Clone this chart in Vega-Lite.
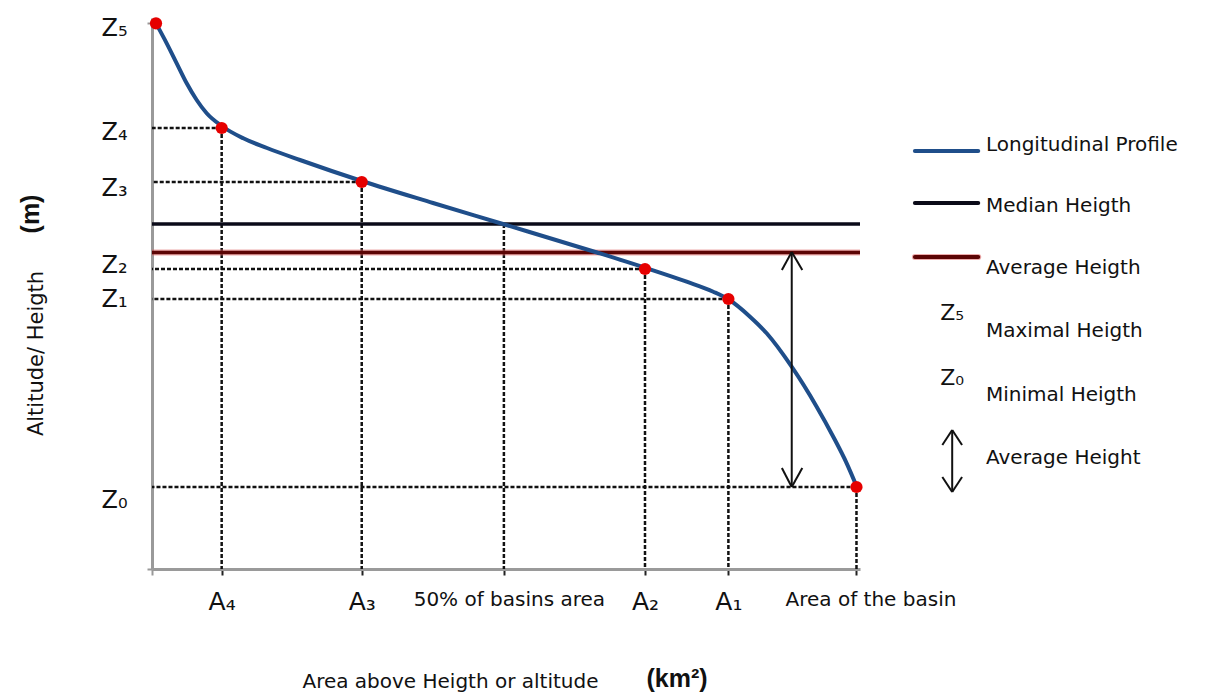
{
  "$schema": "https://vega.github.io/schema/vega-lite/v6.json",
  "width": 708,
  "height": 551,
  "autosize": {"type": "none"},
  "padding": {"left": 152, "top": 18, "right": 356, "bottom": 126},
  "background": "white",
  "config": {"view": {"stroke": null}, "font": "DejaVu Sans", "axis": {"grid": false}},
  "datasets": {
    "profile": [
      {"area": 0.57, "height": 545.7}, {"area": 2.09, "height": 525.7}, {"area": 3.51, "height": 505.7},
      {"area": 4.93, "height": 485.7}, {"area": 6.35, "height": 469}, {"area": 7.77, "height": 455.7},
      {"area": 9.9, "height": 443}, {"area": 12.97, "height": 430.7}, {"area": 16.34, "height": 421},
      {"area": 21.03, "height": 409}, {"area": 29.8, "height": 388}, {"area": 39.93, "height": 366},
      {"area": 49.87, "height": 345}, {"area": 63.23, "height": 316.5}, {"area": 70.05, "height": 301.3},
      {"area": 75.97, "height": 287.3}, {"area": 79.75, "height": 277.3}, {"area": 81.9, "height": 269.7},
      {"area": 84.97, "height": 252.3}, {"area": 87.34, "height": 235.7}, {"area": 90.89, "height": 202.3},
      {"area": 94.44, "height": 162.3}, {"area": 96.8, "height": 132.3}, {"area": 98.71, "height": 105.7},
      {"area": 100.1, "height": 83}
    ],
    "levels": [
      {"label": "Z₅", "area": 0.57, "height": 545.7},
      {"label": "Z₄", "area": 9.9, "height": 441},
      {"label": "Z₃", "area": 29.8, "height": 387},
      {"label": "Z₂", "area": 70.05, "height": 300},
      {"label": "Z₁", "area": 81.9, "height": 270},
      {"label": "Z₀", "area": 100.1, "height": 82}
    ],
    "references": [
      {"name": "Median Heigth", "area": 50, "height": 345},
      {"name": "Average Heigth", "area": 90.9, "height": 316.5}
    ],
    "arrows": [
      {"area": 90.9, "height": 317, "area2": 90.9, "height2": 82},
      {"area": 90.9, "height": 317, "area2": 89.5, "height2": 299},
      {"area": 90.9, "height": 317, "area2": 92.4, "height2": 299},
      {"area": 90.9, "height": 82, "area2": 89.5, "height2": 101},
      {"area": 90.9, "height": 82, "area2": 92.4, "height2": 101},
      {"area": 113.7, "height": 139, "area2": 113.7, "height2": 77},
      {"area": 113.7, "height": 139, "area2": 112.3, "height2": 124},
      {"area": 113.7, "height": 139, "area2": 115.1, "height2": 124},
      {"area": 113.7, "height": 77, "area2": 112.3, "height2": 92},
      {"area": 113.7, "height": 77, "area2": 115.1, "height2": 92}
    ],
    "legendLines": [
      {"name": "Longitudinal Profile", "area": 108.4, "area2": 117.4, "height": 418},
      {"name": "Median Heigth", "area": 108.4, "area2": 117.4, "height": 366},
      {"name": "Average Heigth", "area": 108.4, "area2": 117.4, "height": 312}
    ],
    "legendText": [
      {"text": "Longitudinal Profile", "area": 118.5, "height": 424},
      {"text": "Median Heigth", "area": 118.5, "height": 363},
      {"text": "Average Heigth", "area": 118.5, "height": 301},
      {"text": "Maximal Heigth", "area": 118.5, "height": 238},
      {"text": "Minimal Heigth", "area": 118.5, "height": 174},
      {"text": "Average Height", "area": 118.5, "height": 111.5}
    ],
    "legendSymbols": [
      {"text": "Z₅", "area": 113.7, "height": 256},
      {"text": "Z₀", "area": 113.7, "height": 191}
    ],
    "units": [
      {"text": "(m)", "area": -17.2, "height": 355, "angle": 270},
      {"text": "(km²)", "area": 74.6, "height": -110, "angle": 0}
    ]
  },
  "layer": [
    {
      "data": {"name": "levels"},
      "transform": [{"filter": "datum.height < 540"}],
      "mark": {"type": "rule", "color": "#111", "strokeWidth": 2.5, "strokeDash": [4, 2]},
      "encoding": {
        "x": {
          "field": "area", "type": "quantitative",
          "scale": {"domain": [0, 100.6], "nice": false, "zero": false},
          "axis": {
            "title": "Area above Heigth or altitude",
            "titleFontSize": 20, "titleFontWeight": "normal", "titleColor": "#111",
            "titleX": 298, "titleY": 112, "titleAlign": "center", "titleBaseline": "middle",
            "values": [0, 9.9, 29.8, 50, 70.05, 81.9, 100.1],
            "labelExpr": "datum.value == 9.9 ? 'A₄' : datum.value == 29.8 ? 'A₃' : datum.value == 50 ? '50% of basins area' : datum.value == 70.05 ? 'A₂' : datum.value == 81.9 ? 'A₁' : datum.value == 100.1 ? 'Area of the basin' : ''",
            "labelFontSize": {"condition": {"test": "datum.value == 50 || datum.value == 100.1", "value": 20}, "value": 25},
            "labelOffset": {"condition": [{"test": "datum.value == 100.1", "value": 14}, {"test": "datum.value == 50", "value": 5}], "value": 0},
            "labelColor": "#111",
            "labelPadding": 14,
            "labelLimit": 400,
            "labelFlush": false,
            "labelOverlap": false,
            "tickSize": 6,
            "tickWidth": 2,
            "tickColor": {"condition": {"test": "datum.value == 0", "value": "#999999"}, "value": "#222222"},
            "domainColor": "#9a9a9a",
            "domainWidth": 3
          }
        },
        "x2": {"datum": 0},
        "y": {
          "field": "height", "type": "quantitative",
          "scale": {"domain": [0, 551], "nice": false, "zero": false},
          "axis": {
            "title": "Altitude/ Heigth",
            "titleFontSize": 21, "titleFontWeight": "normal", "titleColor": "#111",
            "titleX": -116, "titleY": 335, "titleAlign": "center", "titleBaseline": "middle", "titleAngle": 270,
            "values": [0, 545.7, 441, 387, 300, 270, 82],
            "labelExpr": "datum.value == 545.7 ? 'Z₅' : datum.value == 441 ? 'Z₄' : datum.value == 387 ? 'Z₃' : datum.value == 300 ? 'Z₂' : datum.value == 270 ? 'Z₁' : datum.value == 82 ? 'Z₀' : ''",
            "labelFontSize": 24,
            "labelColor": "#111",
            "labelBaseline": "middle",
            "labelOffset": {"condition": [{"test": "datum.value == 545.7", "value": 5}, {"test": "datum.value == 441", "value": 4}, {"test": "datum.value == 387", "value": 6}, {"test": "datum.value == 300", "value": -4}, {"test": "datum.value == 82", "value": 13}], "value": 0},
            "labelPadding": 20,
            "labelFlush": false,
            "labelOverlap": false,
            "tickSize": 5,
            "tickWidth": 2,
            "tickColor": {"condition": {"test": "datum.value == 0 || datum.value == 545.7", "value": "#999999"}, "value": "transparent"},
            "domainColor": "#9a9a9a",
            "domainWidth": 3
          }
        }
      }
    },
    {
      "data": {"name": "levels"},
      "transform": [{"filter": "datum.height < 540"}],
      "mark": {"type": "rule", "color": "#111", "strokeWidth": 2.5, "strokeDash": [4, 2]},
      "encoding": {
        "x": {"field": "area", "type": "quantitative"},
        "y": {"field": "height", "type": "quantitative"},
        "y2": {"datum": 0}
      }
    },
    {
      "data": {"name": "references"},
      "transform": [{"filter": "datum.name == 'Median Heigth'"}],
      "mark": {"type": "rule", "color": "#111", "strokeWidth": 2.5, "strokeDash": [4, 2]},
      "encoding": {
        "x": {"field": "area", "type": "quantitative"},
        "y": {"field": "height", "type": "quantitative"},
        "y2": {"datum": 0}
      }
    },
    {
      "data": {"name": "references"},
      "transform": [{"filter": "datum.name == 'Average Heigth'"}],
      "mark": {"type": "rule", "color": "#e06666", "strokeWidth": 6, "opacity": 0.55},
      "encoding": {
        "x": {"datum": 0},
        "x2": {"datum": 100.6},
        "y": {"field": "height", "type": "quantitative"}
      }
    },
    {
      "data": {"name": "references"},
      "mark": {"type": "rule", "strokeWidth": 3.5},
      "encoding": {
        "x": {"datum": 0},
        "x2": {"datum": 100.6},
        "y": {"field": "height", "type": "quantitative"},
        "color": {
          "field": "name", "type": "nominal", "legend": null,
          "scale": {"domain": ["Longitudinal Profile", "Median Heigth", "Average Heigth"], "range": ["#1f4e8a", "#0a0a18", "#5c0505"]}
        }
      }
    },
    {
      "data": {"name": "profile"},
      "mark": {"type": "line", "strokeWidth": 4, "interpolate": "monotone"},
      "encoding": {
        "x": {"field": "area", "type": "quantitative"},
        "y": {"field": "height", "type": "quantitative"},
        "color": {"datum": "Longitudinal Profile", "type": "nominal"}
      }
    },
    {
      "data": {"name": "levels"},
      "mark": {"type": "point", "filled": true, "color": "#e60000", "size": 150, "opacity": 1},
      "encoding": {
        "x": {"field": "area", "type": "quantitative"},
        "y": {"field": "height", "type": "quantitative"}
      }
    },
    {
      "data": {"name": "arrows"},
      "mark": {"type": "rule", "color": "#111", "strokeWidth": 2},
      "encoding": {
        "x": {"field": "area", "type": "quantitative"},
        "y": {"field": "height", "type": "quantitative"},
        "x2": {"field": "area2"},
        "y2": {"field": "height2"}
      }
    },
    {
      "data": {"name": "legendLines"},
      "transform": [{"filter": "datum.name == 'Average Heigth'"}],
      "mark": {"type": "rule", "color": "#e06666", "strokeWidth": 6, "opacity": 0.55, "strokeCap": "round"},
      "encoding": {
        "x": {"field": "area", "type": "quantitative"},
        "x2": {"field": "area2"},
        "y": {"field": "height", "type": "quantitative"}
      }
    },
    {
      "data": {"name": "legendLines"},
      "mark": {"type": "rule", "strokeWidth": 4, "strokeCap": "round"},
      "encoding": {
        "x": {"field": "area", "type": "quantitative"},
        "x2": {"field": "area2"},
        "y": {"field": "height", "type": "quantitative"},
        "color": {"field": "name", "type": "nominal"}
      }
    },
    {
      "data": {"name": "legendText"},
      "mark": {"type": "text", "align": "left", "baseline": "middle", "fontSize": 20, "color": "#111"},
      "encoding": {
        "x": {"field": "area", "type": "quantitative"},
        "y": {"field": "height", "type": "quantitative"},
        "text": {"field": "text"}
      }
    },
    {
      "data": {"name": "legendSymbols"},
      "mark": {"type": "text", "align": "center", "baseline": "middle", "fontSize": 22, "color": "#111"},
      "encoding": {
        "x": {"field": "area", "type": "quantitative"},
        "y": {"field": "height", "type": "quantitative"},
        "text": {"field": "text"}
      }
    },
    {
      "data": {"name": "units"},
      "mark": {"type": "text", "align": "center", "baseline": "middle", "fontSize": 25, "fontWeight": "bold", "font": "Liberation Sans", "color": "#111"},
      "encoding": {
        "x": {"field": "area", "type": "quantitative"},
        "y": {"field": "height", "type": "quantitative"},
        "text": {"field": "text"},
        "angle": {"field": "angle", "type": "quantitative", "scale": null}
      }
    }
  ]
}
